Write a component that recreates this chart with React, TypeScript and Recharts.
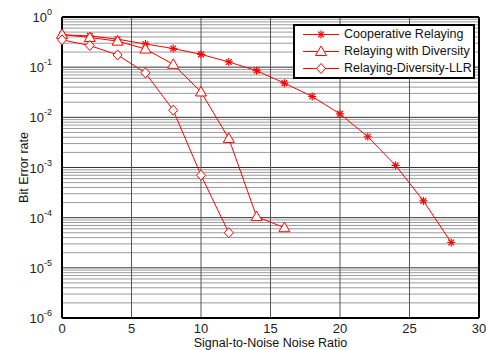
import { LineChart, Line, XAxis, YAxis, ReferenceLine, Legend } from 'recharts'

const snr = [0, 2, 4, 6, 8, 10, 12, 14, 16, 18, 20, 22, 24, 26, 28]
const cooperative = [0.44, 0.42, 0.36, 0.29, 0.235, 0.18, 0.127, 0.085, 0.048, 0.026, 0.0117, 0.0041, 0.0011, 0.000216, 0.000032]
const diversity = [0.45, 0.39, 0.33, 0.23, 0.114, 0.032, 0.0038, 0.000105, 0.000063]
const llr = [0.35, 0.27, 0.175, 0.077, 0.0139, 0.0007, 0.00005]

const xTicks = [0, 5, 10, 15, 20, 25, 30]
const yTicks = [1e-6, 1e-5, 1e-4, 1e-3, 1e-2, 1e-1, 1]
const decadeExps = [-6, -5, -4, -3, -2, -1]
const minorMults = [2, 3, 4, 5, 6, 7, 8, 9]

const RED = '#ff0000'
const FONT = '"Liberation Sans", Arial, sans-serif'

const data = snr.map((x, i) => ({
  snr: x,
  coop: cooperative[i],
  div: diversity[i],
  llr: llr[i],
}))

const minorLines = decadeExps.flatMap(e => minorMults.map(m => m * Math.pow(10, e)))

const Star = (props: any) => {
  const { cx, cy } = props
  if (cx == null || cy == null) return null
  const r = 4
  const d = r * 0.72
  return (
    <g stroke={RED} strokeWidth={1.2}>
      <line x1={cx - r} y1={cy} x2={cx + r} y2={cy} />
      <line x1={cx} y1={cy - r} x2={cx} y2={cy + r} />
      <line x1={cx - d} y1={cy - d} x2={cx + d} y2={cy + d} />
      <line x1={cx - d} y1={cy + d} x2={cx + d} y2={cy - d} />
    </g>
  )
}

const Triangle = (props: any) => {
  const { cx, cy } = props
  if (cx == null || cy == null) return null
  return (
    <polygon
      points={`${cx},${cy - 5.5} ${cx - 5.5},${cy + 4} ${cx + 5.5},${cy + 4}`}
      fill="white"
      stroke={RED}
      strokeWidth={1}
    />
  )
}

const Diamond = (props: any) => {
  const { cx, cy } = props
  if (cx == null || cy == null) return null
  return (
    <polygon
      points={`${cx},${cy - 5} ${cx + 4.5},${cy} ${cx},${cy + 5} ${cx - 4.5},${cy}`}
      fill="white"
      stroke={RED}
      strokeWidth={1}
    />
  )
}

const YTick = (props: any) => {
  const { x, y, payload } = props
  const exp = Math.round(Math.log10(payload.value))
  return (
    <text x={x - 2} y={y + 5} textAnchor="end" fontSize={13} fontFamily={FONT} fill="#222">
      10
      <tspan dy={-7} fontSize={9}>{exp}</tspan>
    </text>
  )
}

const XLabel = (props: any) => {
  const { viewBox } = props
  return (
    <text x={viewBox.x + viewBox.width / 2} y={viewBox.y + 29} textAnchor="middle" fontSize={12.5} fontFamily={FONT} fill="#111">
      Signal-to-Noise Noise Ratio
    </text>
  )
}

const YLabel = (props: any) => {
  const { viewBox } = props
  const cy = viewBox.y + viewBox.height / 2
  return (
    <text x={28} y={cy} transform={`rotate(-90, 28, ${cy})`} textAnchor="middle" fontSize={12.5} fontFamily={FONT} fill="#111">
      Bit Error rate
    </text>
  )
}

const legendItems = [
  { label: 'Cooperative Relaying', Mark: Star },
  { label: 'Relaying with Diversity', Mark: Triangle },
  { label: 'Relaying-Diversity-LLR', Mark: Diamond },
]

const LegendBox = () => (
  <div
    style={{
      width: 178,
      height: 51,
      border: '2px solid #000',
      background: '#fff',
      fontFamily: FONT,
      fontSize: 12.5,
      lineHeight: '17px',
      color: '#111',
      boxSizing: 'content-box',
      overflow: 'hidden',
    }}
  >
    {legendItems.map(({ label, Mark }) => (
      <div key={label} style={{ display: 'flex', alignItems: 'center', height: 17 }}>
        <svg width={49} height={17} style={{ flex: 'none', display: 'block' }}>
          <line x1={8} y1={8.5} x2={44} y2={8.5} stroke={RED} strokeWidth={1} />
          <Mark cx={26} cy={8.5} />
        </svg>
        <span style={{ whiteSpace: 'nowrap' }}>{label}</span>
      </div>
    ))}
  </div>
)

export default function App() {
  return (
    <div style={{ position: 'absolute', left: 0, top: 0, width: 486, height: 350, background: '#fff' }}>
      <LineChart width={486} height={350} data={data} margin={{ top: 17, right: 7, bottom: 0, left: 8 }}>
        {minorLines.map(v => (
          <ReferenceLine key={`m${v}`} y={v} stroke="#9a9a9a" strokeWidth={1} />
        ))}
        {yTicks.slice(1, -1).map(v => (
          <ReferenceLine key={`M${v}`} y={v} stroke="#333" strokeWidth={1} />
        ))}
        {xTicks.slice(1, -1).map(v => (
          <ReferenceLine key={`x${v}`} x={v} stroke="#555" strokeWidth={1} />
        ))}
        <ReferenceLine x={30} stroke="#000" strokeWidth={2} />
        <ReferenceLine y={1} stroke="#000" strokeWidth={2} />
        <XAxis
          dataKey="snr"
          type="number"
          domain={[0, 30]}
          ticks={xTicks}
          height={32}
          axisLine={{ stroke: '#000', strokeWidth: 2 }}
          tickLine={false}
          tick={{ fontSize: 13, fontFamily: FONT, fill: '#222', dy: -2 }}
          label={<XLabel />}
        />
        <YAxis
          scale="log"
          domain={[1e-6, 1]}
          ticks={yTicks}
          width={54}
          allowDataOverflow
          axisLine={{ stroke: '#000', strokeWidth: 2 }}
          tickLine={false}
          tick={<YTick />}
          label={<YLabel />}
        />
        <Legend
          layout="vertical"
          align="center"
          verticalAlign="middle"
          wrapperStyle={{ position: 'absolute', left: 293, top: 24, width: 'auto', height: 'auto' }}
          content={() => <LegendBox />}
        />
        <Line dataKey="coop" stroke={RED} strokeWidth={1} dot={<Star />} isAnimationActive={false} />
        <Line dataKey="div" stroke={RED} strokeWidth={1} dot={<Triangle />} isAnimationActive={false} />
        <Line dataKey="llr" stroke={RED} strokeWidth={1} dot={<Diamond />} isAnimationActive={false} />
      </LineChart>
    </div>
  )
}
